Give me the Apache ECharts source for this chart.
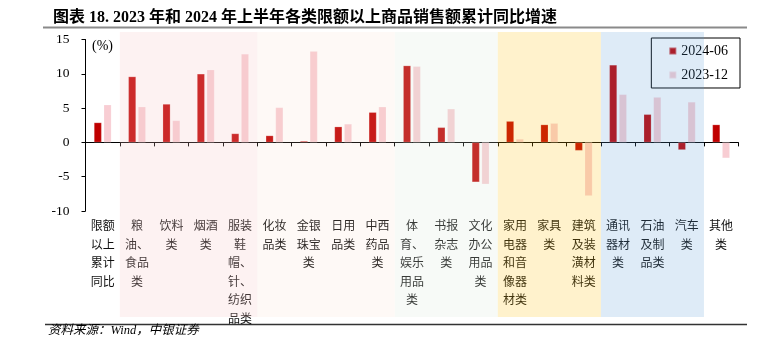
<!DOCTYPE html>
<html>
<head>
<meta charset="utf-8">
<script src="https://cdn.jsdelivr.net/npm/echarts@6/dist/echarts.min.js"></script>
<style>
html,body{margin:0;padding:0;background:#fff;}
#chart{width:762px;height:350px;}
</style>
</head>
<body>
<div id="chart"></div>
<script>
// ---- data ----
const categories = ['限额以上累计同比','粮油、食品类','饮料类','烟酒类','服装鞋帽、针、纺织品类','化妆品类','金银珠宝类','日用品类','中西药品类','体育、娱乐用品类','书报杂志类','文化办公用品类','家用电器和音像器材类','家具类','建筑及装潢材料类','通讯器材类','石油及制品类','汽车类','其他类'];
const tickLabels = ['限额\n以上\n累计\n同比','粮\n油、\n食品\n类','饮料\n类','烟酒\n类','服装\n鞋\n帽、\n针、\n纺织\n品类','化妆\n品类','金银\n珠宝\n类','日用\n品类','中西\n药品\n类','体\n育、\n娱乐\n用品\n类','书报\n杂志\n类','文化\n办公\n用品\n类','家用\n电器\n和音\n像器\n材类','家具\n类','建筑\n及装\n潢材\n料类','通讯\n器材\n类','石油\n及制\n品类','汽车\n类','其他\n类'];
const seriesNames = ['2024-06','2023-12'];
const v202406 = [2.9, 9.6, 5.6, 10.0, 1.3, 1.0, 0.2, 2.3, 4.4, 11.2, 2.2, -5.8, 3.1, 2.6, -1.2, 11.3, 4.1, -1.1, 2.6];
const v202312 = [5.5, 5.2, 3.2, 10.6, 12.9, 5.1, 13.3, 2.7, 5.2, 11.1, 4.9, -6.1, 0.5, 2.8, -7.8, 7.0, 6.6, 5.9, -2.3];
const yTicks = [-10, -5, 0, 5, 10, 15];
// category-index ranges of the shaded groups
const bandStart = [1, 5, 9, 12, 15];
const bandEnd   = [5, 9, 12, 15, 18];
const bandColors = ['rgba(247,194,194,0.22)','rgba(245,205,185,0.13)','rgba(215,232,215,0.2)','rgba(255,192,0,0.2)','rgba(91,155,213,0.2)'];

const serif = '"Liberation Serif","Noto Sans CJK SC",serif';
const chart = echarts.init(document.getElementById('chart'), null, {renderer:'canvas'});

const bandData = bandStart.map((s, i) => [
  {xAxis: s, y: 32, itemStyle: {color: bandColors[i]}},
  {xAxis: bandEnd[i], y: 317}
]);

chart.setOption({
  animation: false,
  backgroundColor: '#fff',
  title: {
    text: '图表 18. 2023 年和 2024 年上半年各类限额以上商品销售额累计同比增速',
    left: 48, top: 5,
    textStyle: {fontFamily: serif, fontSize: 16, fontWeight: 'bold', color: '#000'}
  },
  graphic: [
    {type: 'line', shape: {x1: 43, y1: 27.5, x2: 747, y2: 27.5}, style: {stroke: '#8a8a8a', lineWidth: 2}},
    {type: 'line', shape: {x1: 45, y1: 324.5, x2: 747, y2: 324.5}, style: {stroke: '#333', lineWidth: 1.5}},
    {type: 'text', left: 92, top: 39, style: {text: '(%)', font: '14px ' + serif, fill: '#000'}},
    {type: 'text', left: 48, top: 324, style: {text: '资料来源：Wind，中银证券', font: 'italic 12.5px ' + serif, fill: '#000'}}
  ],
  legend: {
    orient: 'vertical',
    right: 22, top: 38,
    data: seriesNames,
    itemWidth: 7, itemHeight: 7,
    itemGap: 10,
    padding: [6, 12, 6, 17],
    borderColor: '#000', borderWidth: 1,
    icon: 'rect',
    textStyle: {fontFamily: serif, fontSize: 14, color: '#000'}
  },
  grid: {left: 85.5, right: 23.7, top: 39.5, bottom: 139, containLabel: false},
  xAxis: [
    {
      type: 'category', data: tickLabels,
      axisLine: {onZero: true, lineStyle: {color: '#000', width: 1}},
      axisTick: {show: true, length: 4, lineStyle: {color: '#000'}},
      axisLabel: {show: false},
      splitLine: {show: false}
    },
    {
      type: 'category', data: tickLabels, position: 'bottom',
      axisLine: {show: false, onZero: false},
      axisTick: {show: false},
      axisLabel: {show: true, interval: 0, margin: 7, fontFamily: serif, fontSize: 12, lineHeight: 18.5, color: '#111', verticalAlign: 'top'},
      splitLine: {show: false}
    },
    {type: 'value', min: 0, max: 19, show: false}
  ],
  yAxis: {
    type: 'value', min: yTicks[0], max: yTicks[yTicks.length - 1], interval: 5,
    axisLine: {show: true, lineStyle: {color: '#000', width: 1}},
    axisTick: {show: true, length: 4, lineStyle: {color: '#000'}},
    axisLabel: {margin: 16, fontFamily: serif, fontSize: 13.5, color: '#000'},
    splitLine: {show: false}
  },
  series: [
    {
      name: seriesNames[0], type: 'bar', xAxisIndex: 0, data: v202406,
      barWidth: '22.5%', barGap: '26%',
      itemStyle: {color: '#c00000', borderColor: 'rgba(255,255,255,0.35)', borderWidth: 0.6}
    },
    {
      name: seriesNames[1], type: 'bar', xAxisIndex: 0, data: v202312,
      barWidth: '22.5%', barGap: '26%',
      itemStyle: {color: '#f8cdd3', borderColor: 'rgba(255,255,255,0.35)', borderWidth: 0.6}
    },
    {
      name: 'bands', type: 'line', xAxisIndex: 2, data: [], z: 10, clip: false,
      silent: true, legendHoverLink: false,
      markArea: {silent: true, z: 10, label: {show: false}, data: bandData}
    }
  ]
});
</script>
</body>
</html>
